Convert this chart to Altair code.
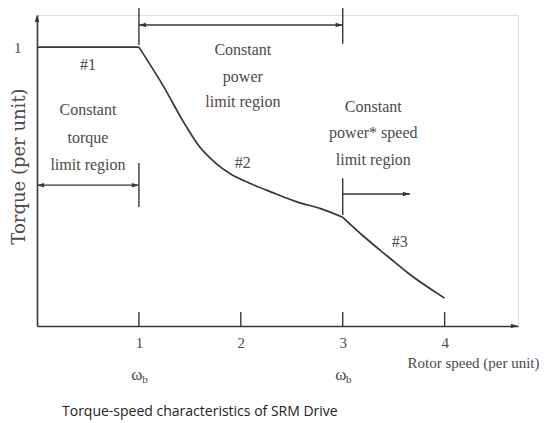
import altair as alt
import pandas as pd

# ---- data ----
speed = [0, 1.0, 1.0, 1.24, 1.44, 1.59, 1.75, 1.90, 2.10, 2.30, 2.55, 2.79, 3.0, 3.0, 3.21, 3.44, 3.64, 4.0]
torque = [1.0, 1.0, 1.0, 0.86, 0.73, 0.645, 0.585, 0.545, 0.51, 0.48, 0.445, 0.42, 0.39, 0.39, 0.32, 0.25, 0.19, 0.10]
part = ["#1", "#1", "#2", "#2", "#2", "#2", "#2", "#2", "#2", "#2", "#2", "#2", "#2", "#3", "#3", "#3", "#3", "#3"]

tick_vals = [1, 2, 3, 4]
omega_x = [1, 3]

# region marker bars (vertical)
bar_x = [1, 3, 1, 3]
bar_y = [1.007, 1.012, 0.427, 0.398]
bar_y2 = [1.15, 1.15, 0.584, 0.53]

# region arrows (horizontal)
arr_x = [1, 0, 3]
arr_x2 = [3, 1, 3.66]
arr_y = [1.079, 0.505, 0.473]

# arrow heads
head_r_x = [3, 1, 3.66, 4.72]
head_r_y = [1.079, 0.505, 0.473, 0]
head_l_x = [1, 0]
head_l_y = [1.079, 0.505]
head_u_x = [0]
head_u_y = [1.115]

# annotations
ann_text = ["#1",
            "Constant", "torque", "limit region",
            "Constant", "power", "limit region",
            "#2",
            "Constant", "power* speed", "limit region",
            "#3"]
ann_x = [0.5, 0.5, 0.5, 0.5, 2.02, 2.02, 2.02, 2.02, 3.30, 3.30, 3.30, 3.56]
ann_y = [0.935, 0.774, 0.674, 0.577, 0.989, 0.892, 0.803, 0.584, 0.785, 0.692, 0.595, 0.30]

LINE = "#363636"
TEXT = "#4a4a4a"
SERIF = "Liberation Serif"

curve_df = pd.DataFrame({"speed": speed, "torque": torque, "part": part})
bars_df = pd.DataFrame({"x": bar_x, "y": bar_y, "y2": bar_y2})
arr_df = pd.DataFrame({"x": arr_x, "x2": arr_x2, "y": arr_y})
hr_df = pd.DataFrame({"x": head_r_x, "y": head_r_y})
hl_df = pd.DataFrame({"x": head_l_x, "y": head_l_y})
hu_df = pd.DataFrame({"x": head_u_x, "y": head_u_y})
ann_df = pd.DataFrame({"t": ann_text, "x": ann_x, "y": ann_y})
ticks_df = pd.DataFrame({"x": tick_vals})
omega_df = pd.DataFrame({"x": omega_x})

xs = alt.Scale(domain=[0, 4.72], nice=False, zero=False)
ys = alt.Scale(domain=[0, 1.115], nice=False, zero=False)

x_axis = alt.Axis(values=tick_vals, format="d", grid=False, ticks=False, tickSize=0,
                  domainColor=LINE, domainWidth=1.6, labelPadding=9,
                  labelFont=SERIF, labelFontSize=15, labelColor=TEXT,
                  title="Rotor speed (per unit)", titleFont=SERIF, titleFontSize=15,
                  titleFontWeight="normal", titleColor=TEXT,
                  titleX=436, titleY=36, titleAlign="center", titleBaseline="middle")
y_axis = alt.Axis(values=[1], format="d", grid=False, ticks=False, tickSize=0,
                  domainColor=LINE, domainWidth=1.6, labelPadding=16,
                  labelFont=SERIF, labelFontSize=15, labelColor=TEXT,
                  title="Torque (per unit)", titleFont="DejaVu Serif", titleFontSize=18,
                  titleFontWeight="normal", titleColor=TEXT, titleAngle=270,
                  titleX=-18, titleY=151, titleAlign="center", titleBaseline="middle")

curve = alt.Chart(curve_df).mark_line(color=LINE, strokeWidth=1.7, clip=False,
                                      interpolate="monotone").encode(
    x=alt.X("speed:Q", scale=xs, axis=x_axis),
    y=alt.Y("torque:Q", scale=ys, axis=y_axis),
    detail="part:N",
)

bars = alt.Chart(bars_df).mark_rule(color=LINE, strokeWidth=1.4, clip=False).encode(
    x=alt.X("x:Q", scale=xs), y=alt.Y("y:Q", scale=ys), y2="y2:Q")
arrows = alt.Chart(arr_df).mark_rule(color=LINE, strokeWidth=1.4, clip=False).encode(
    x=alt.X("x:Q", scale=xs), x2="x2:Q", y=alt.Y("y:Q", scale=ys))
tick_marks = alt.Chart(ticks_df).mark_rule(color=LINE, strokeWidth=1.4, clip=False).encode(
    x=alt.X("x:Q", scale=xs), y=alt.datum(0, scale=ys), y2=alt.datum(0.05))

HEAD_R = "M 0 0 L -1 -0.32 L -1 0.32 Z"
HEAD_L = "M 0 0 L 1 -0.32 L 1 0.32 Z"
HEAD_U = "M 0 0 L -0.32 1 L 0.32 1 Z"

def heads(df, shape):
    return alt.Chart(df).mark_point(shape=shape, filled=True, color=LINE, size=200,
                                    opacity=1, clip=False).encode(
        x=alt.X("x:Q", scale=xs), y=alt.Y("y:Q", scale=ys))

ann = alt.Chart(ann_df).mark_text(font=SERIF, fontSize=16, color=TEXT,
                                  align="center", baseline="middle", clip=False).encode(
    x=alt.X("x:Q", scale=xs), y=alt.Y("y:Q", scale=ys), text="t:N")

omega = alt.Chart(omega_df).mark_text(text="ω", font=SERIF, fontSize=17, color=TEXT,
                                      align="center", baseline="middle", dx=-2, clip=False).encode(
    x=alt.X("x:Q", scale=xs), y=alt.datum(-0.176, scale=ys))
omega_b = alt.Chart(omega_df).mark_text(text="b", font=SERIF, fontSize=11, color=TEXT,
                                        align="center", baseline="middle", dx=6, dy=5, clip=False).encode(
    x=alt.X("x:Q", scale=xs), y=alt.datum(-0.176, scale=ys))

chart = alt.layer(
    curve, bars, arrows, tick_marks,
    heads(hr_df, HEAD_R), heads(hl_df, HEAD_L), heads(hu_df, HEAD_U),
    ann, omega, omega_b,
).properties(
    width=481, height=311,
    autosize=alt.AutoSizeParams(type="none"),
    padding={"left": 29, "top": 7, "right": 23, "bottom": 97},
    title=alt.TitleParams(text="Torque-speed characteristics of SRM Drive", orient="bottom",
                          anchor="start", frame="group", dx=25, offset=20,
                          font="Open Sans", fontSize=14, fontWeight="normal", color="#222222"),
).configure_view(stroke=None).configure(background="white")

chart.save("out.html", embed_options={"renderer": "svg", "actions": False})
